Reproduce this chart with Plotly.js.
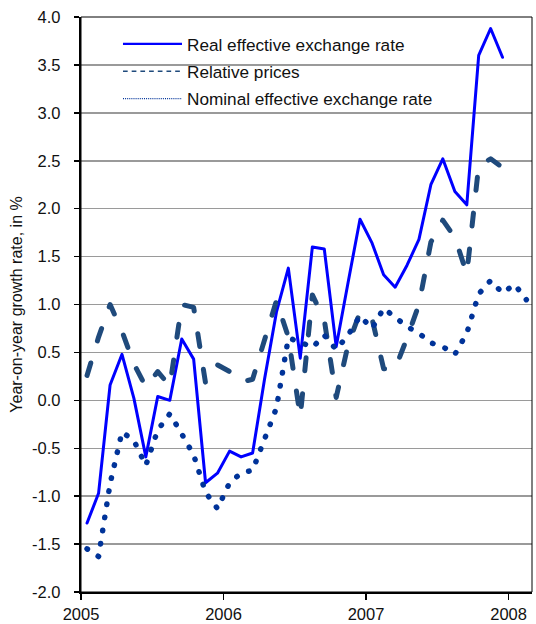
<!DOCTYPE html>
<html><head><meta charset="utf-8">
<script src="https://cdn.plot.ly/plotly-3.0.1.min.js"></script>
<style>
html,body{margin:0;padding:0;background:#fff;}
#chart{width:536px;height:624px;}
#chart .js-line{stroke-linecap:round !important;stroke-linejoin:round !important;}
#chart .legend .js-line{stroke-linecap:butt !important;stroke-width:2.2px !important;}
#chart .legend .js-line[style*="13px"]{stroke-width:1.6px !important;stroke-dasharray:4.7px,4px !important;}
#chart .legend .js-line[style*="12.8px"]{stroke-width:1.3px !important;stroke-dasharray:1px,1.1px !important;}
</style></head><body><div id="chart"></div>
<script>
// Monthly observations (Jan 2005 - Feb 2008)
const months = [
  '2005-01','2005-02','2005-03','2005-04','2005-05','2005-06','2005-07','2005-08','2005-09','2005-10','2005-11','2005-12',
  '2006-01','2006-02','2006-03','2006-04','2006-05','2006-06','2006-07','2006-08','2006-09','2006-10','2006-11','2006-12',
  '2007-01','2007-02','2007-03','2007-04','2007-05','2007-06','2007-07','2007-08','2007-09','2007-10','2007-11','2007-12',
  '2008-01','2008-02'
];
const realEER = [
  -1.28, -0.97, 0.16, 0.48, 0.02, -0.59, 0.04, 0.00, 0.64, 0.43, -0.86, -0.76,
  -0.53, -0.59, -0.55, 0.22, 0.92, 1.38, 0.44, 1.60, 1.58, 0.56, 1.23, 1.89,
  1.64, 1.31, 1.18, 1.41, 1.68, 2.25, 2.52, 2.18, 2.04, 3.60, 3.88, 3.58
];
const relativePrices = [
  0.26, 0.66, 1.00, 0.72, 0.38, 0.14, 0.30, 0.15, 1.00, 0.97, 0.18, 0.37,
  0.30, 0.19, 0.22, 0.65, 1.04, 0.66, -0.17, 1.10, 0.84, 0.03, 0.58, 0.92,
  0.85, 0.33, 0.33, 0.65, 1.00, 1.65, 1.88, 1.70, 1.32, 2.45, 2.52, 2.43
];
const nominalEER = [
  -1.55, -1.63, -0.87, -0.33, -0.42, -0.68, -0.31, -0.14, -0.35, -0.57, -0.96, -1.13,
  -0.86, -0.76, -0.73, -0.39, -0.08, 0.65, 0.61, 0.55, 0.68, 0.53, 0.68, 0.88,
  0.75, 0.96, 0.86, 0.77, 0.70, 0.60, 0.56, 0.48, 0.70, 1.11, 1.25, 1.12,
  1.21, 1.05
];
const seriesNames = ['Real effective exchange rate', 'Relative prices', 'Nominal effective exchange rate'];
const yTickVals = [-2, -1.5, -1, -0.5, 0, 0.5, 1, 1.5, 2, 2.5, 3, 3.5, 4];
const yTickText = ['-2.0', '-1.5', '-1.0', '-0.5', '0.0', '0.5', '1.0', '1.5', '2.0', '2.5', '3.0', '3.5', '4.0'];
const yTitle = 'Year-on-year growth rate, in %';

const FONT = '"Liberation Sans", Arial, Helvetica, sans-serif';

const common = { type: 'scatter', mode: 'lines', xperiod: 'M1', xperiodalignment: 'middle', hoverinfo: 'skip' };

const traces = [
  Object.assign({}, common, {
    name: seriesNames[0], legendgroup: 'a',
    x: months.slice(0, realEER.length), y: realEER,
    line: { color: '#0000FF', width: 3 }
  }),
  Object.assign({}, common, {
    name: seriesNames[1], legendgroup: 'b',
    x: months.slice(0, relativePrices.length), y: relativePrices,
    line: { color: '#1F4A7C', width: 5, dash: '13px,23px' }
  }),
  Object.assign({}, common, {
    name: seriesNames[2], legendgroup: 'c',
    x: months.slice(0, nominalEER.length), y: nominalEER,
    line: { color: '#003399', width: 5.5, dash: '0.5px,12.8px' }
  })
];

const layout = {
  width: 536, height: 624,
  margin: { l: 81, r: 4, t: 17, b: 32 },
  paper_bgcolor: '#ffffff', plot_bgcolor: '#ffffff',
  font: { family: FONT, color: '#000000', size: 16 },
  showlegend: true,
  legend: {
    x: 0.082, y: 0.984, xanchor: 'left', yanchor: 'top',
    bgcolor: 'rgba(255,255,255,0)', borderwidth: 0,
    font: { family: FONT, size: 17.2, color: '#111111' },
    tracegroupgap: 2, itemwidth: 59, traceorder: 'grouped'
  },
  xaxis: {
    type: 'date',
    range: ['2005-01-01', '2008-03-01'],
    tick0: '2005-01-01', dtick: 'M12', tickformat: '%Y',
    ticks: 'outside', ticklen: 6, tickwidth: 1.5, tickcolor: '#000000',
    showgrid: false, zeroline: false,
    showline: true, linecolor: '#000000', linewidth: 2.2,
    tickfont: { family: FONT, size: 16.5, color: '#111111' }
  },
  yaxis: {
    range: [-2, 4],
    tickmode: 'array', tickvals: yTickVals, ticktext: yTickText,
    ticks: 'outside', ticklen: 5, tickwidth: 1.5, tickcolor: '#000000',
    ticklabelstandoff: 10,
    showgrid: true, gridcolor: '#9a9a9a', gridwidth: 1.5,
    zeroline: false,
    showline: true, linecolor: '#000000', linewidth: 2.2,
    tickfont: { family: FONT, size: 16.5, color: '#111111' },
    title: { text: yTitle, font: { family: FONT, size: 16, color: '#111111' }, standoff: 6 }
  },
  shapes: [
    // white legend panel (hides the gridline behind the legend)
    { type: 'rect', xref: 'paper', yref: 'paper', x0: 0.0244, x1: 0.8426, y0: 0.842, y1: 0.9814,
      line: { width: 0 }, fillcolor: '#ffffff', layer: 'between' },
    // thin frame on top and right
    { type: 'rect', xref: 'paper', yref: 'paper', x0: 0, x1: 1, y0: 0, y1: 1,
      line: { color: '#000000', width: 1 }, fillcolor: 'rgba(0,0,0,0)', layer: 'above' }
  ]
};

Plotly.newPlot('chart', traces, layout, { displayModeBar: false, staticPlot: true });
</script>
</body></html>
